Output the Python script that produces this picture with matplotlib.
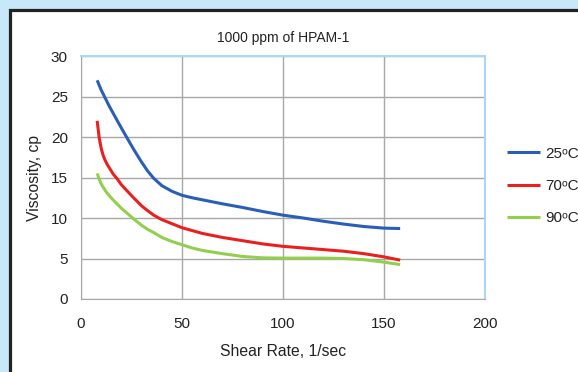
import numpy as np
import matplotlib.pyplot as plt
from matplotlib.patches import Rectangle

plt.rcParams['font.family'] = ['Liberation Sans', 'DejaVu Sans']

# shear rate, 1/sec
rate = [8, 9, 10, 11, 12, 13, 14, 16, 18, 20, 23, 26, 30, 33, 36, 40, 45, 50,
        55, 60, 70, 80, 90, 100, 110, 120, 130, 140, 150, 158]
# viscosity, cp
visc_25 = [27.0, 26.4, 25.8, 25.3, 24.8, 24.3, 23.8, 22.9, 22.0, 21.1, 19.8,
           18.5, 16.9, 15.8, 14.9, 14.0, 13.3, 12.8, 12.5, 12.25, 11.75, 11.3,
           10.8, 10.35, 10.0, 9.6, 9.25, 8.95, 8.75, 8.7]
visc_70 = [22.0, 19.9, 18.6, 17.7, 17.1, 16.6, 16.2, 15.4, 14.8, 14.1, 13.3,
           12.5, 11.5, 10.9, 10.35, 9.8, 9.3, 8.8, 8.45, 8.1, 7.6, 7.2, 6.8,
           6.5, 6.3, 6.1, 5.9, 5.6, 5.2, 4.8]
visc_90 = [15.5, 14.8, 14.2, 13.8, 13.4, 13.05, 12.75, 12.2, 11.7, 11.2, 10.55,
           9.9, 9.1, 8.6, 8.2, 7.6, 7.1, 6.7, 6.3, 6.0, 5.6, 5.25, 5.08, 5.05,
           5.05, 5.05, 5.0, 4.85, 4.55, 4.25]
labels = ['25\u1d52C', '70\u1d52C', '90\u1d52C']
colors = ['#2a5fb8', '#e8211f', '#92cf4e']

fig = plt.figure(figsize=(5.78, 3.72), dpi=100)
fig.patch.set_facecolor('#c6e8f8')
# white panel with dark border
fig.patches.append(Rectangle((9.5/578, -0.2), 1.2, 1 - 10.5/372 + 0.2,
                             transform=fig.transFigure, facecolor='white',
                             edgecolor='#222222', linewidth=2.3, zorder=-1))

ax = fig.add_axes([81/578, 73/372, 404/578, 243/372])
ax.set_zorder(2)
ax.set_facecolor('white')
for ys, lab, c in zip([visc_25, visc_70, visc_90], labels, colors):
    ax.plot(rate, ys, color=c, lw=2.2, label=lab, solid_capstyle='butt')

ax.set_xlim(0, 200)
ax.set_ylim(0, 30)
ax.set_xticks(np.arange(0, 201, 50))
ax.set_yticks(np.arange(0, 31, 5))
ax.grid(True, color='#a8a8a8', lw=1)
ax.set_axisbelow(True)
ax.tick_params(axis='both', length=0, labelsize=11, colors='#222222')
ax.tick_params(axis='x', pad=13)
ax.tick_params(axis='y', pad=9.5)
for s in ['left', 'bottom']:
    ax.spines[s].set_color('#a8a8a8')
for s in ['top', 'right']:
    ax.spines[s].set_color('#a9d8f2')
    ax.spines[s].set_linewidth(1.5)

ax.set_title('1000 ppm of HPAM-1', fontsize=10, color='#222222', pad=10)
ax.set_xlabel('Shear Rate, 1/sec', fontsize=11.3, color='#222222', labelpad=9)
ax.set_ylabel('Viscosity, cp', fontsize=11.3, color='#222222', labelpad=6)

ax.legend(loc='center left', bbox_to_anchor=(1.02, 0.465), frameon=False,
          fontsize=11, handlelength=2.2, handletextpad=0.3, labelspacing=1.2,
          labelcolor='#222222')

fig.savefig('out.png', dpi=100, facecolor=fig.get_facecolor())
